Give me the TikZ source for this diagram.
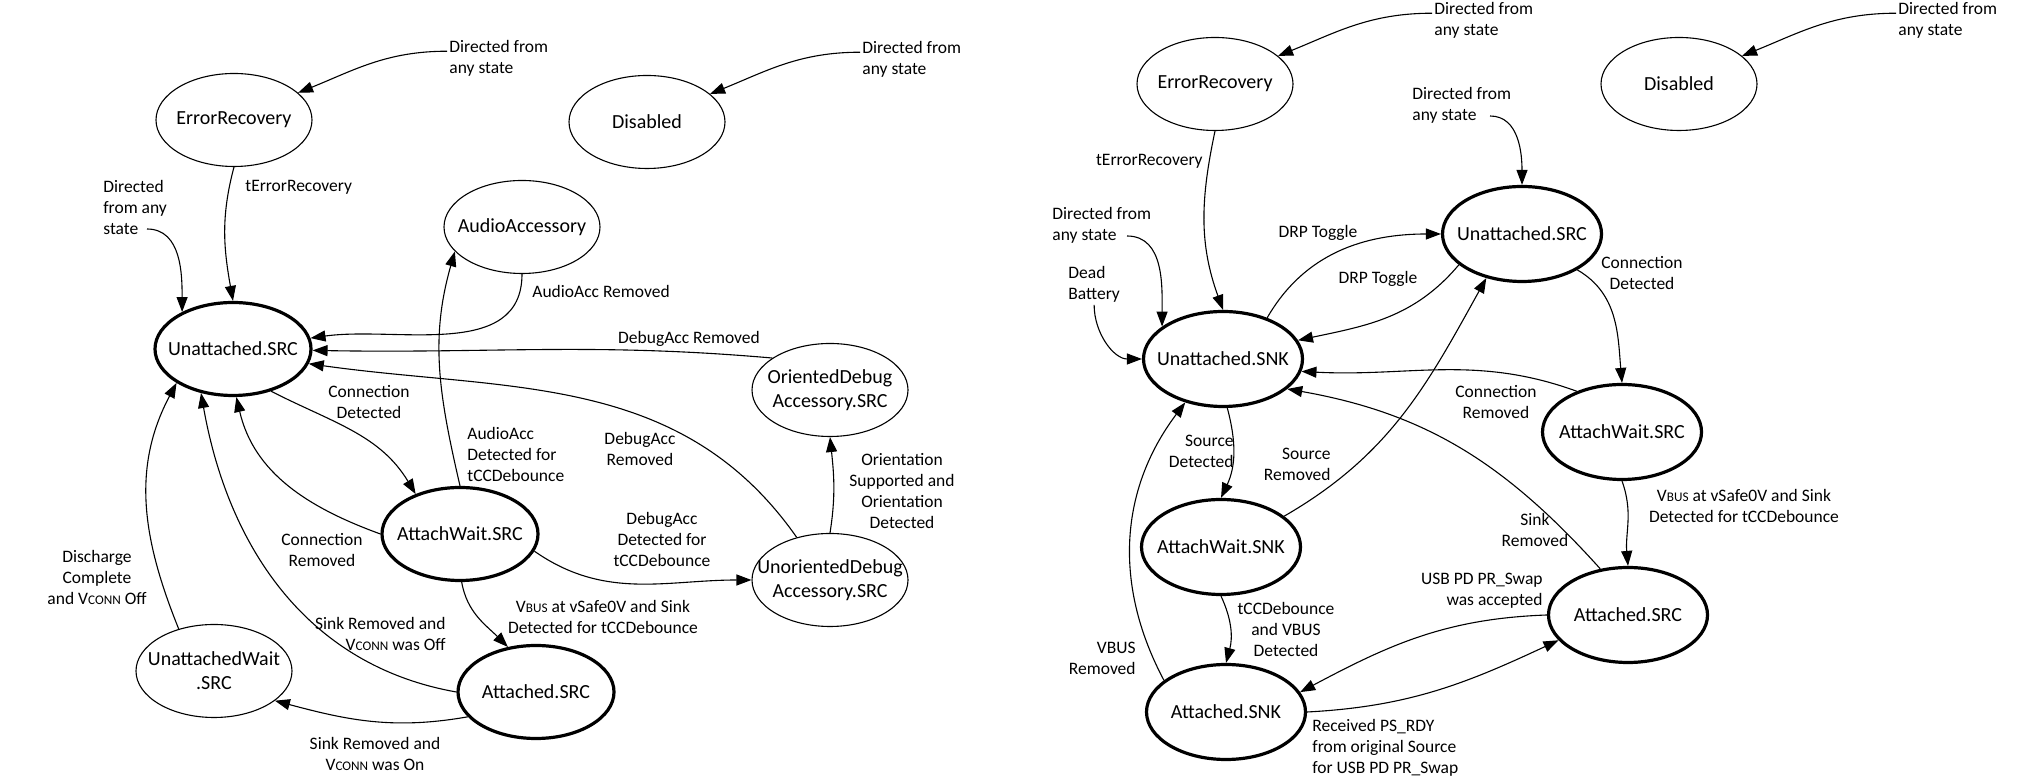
\documentclass[tikz,border=0pt]{standalone}
\usepackage{fontspec}
\setmainfont{Carlito}
\usetikzlibrary{shapes.geometric,arrows.meta}
\newcommand{\smc}[1]{{\fontsize{6.6}{7}\selectfont #1}}

\begin{document}
\begin{tikzpicture}[x=0.5pt,y=0.5pt,
    >={Triangle[length=7.5pt,width=5.5pt]},
    state/.style={ellipse,draw,line width=0.55pt,minimum width=78pt,minimum height=46.5pt,
        inner xsep=-12pt,inner ysep=0pt,align=center,font=\fontsize{10}{12}\selectfont},
    main/.style={state,line width=1.6pt},
    rmain/.style={main,minimum width=79.5pt,minimum height=47.5pt},
    lbl/.style={inner sep=1pt,font=\fontsize{8.75}{10.5}\selectfont},
    trans/.style={->,line width=0.55pt}]
    \useasboundingbox (0,0) rectangle (2033,780);

    % source diagram
    \node[state] (errL) at (234,660) {ErrorRecovery};
    \node[state] (disL) at (647,658) {Disabled};
    \node[state] (audio) at (522,553) {AudioAccessory};
    \node[main] (unsrcL) at (233,431) {Unattached.SRC};
    \node[state] (orient) at (830,390) {OrientedDebug\\Accessory.SRC};
    \node[state] (unorient) at (830,200) {UnorientedDebug\\Accessory.SRC};
    \node[main] (awsrcL) at (460,246) {AttachWait.SRC};
    \node[main] (attsrcL) at (536,88) {Attached.SRC};
    \node[state] (uwait) at (214,109) {UnattachedWait\\.SRC};

    \node[lbl,anchor=west,align=left] (dfErrL) at (447,721.5) {Directed from\\any state};
    \node[lbl,anchor=west,align=left] (dfUnL) at (101,572) {Directed\\from any\\state};
    \node[lbl,anchor=west] (terL) at (243,593) {tErrorRecovery};
    \node[lbl,anchor=west,align=left] (dfDisL) at (860,720.5) {Directed from\\any state};
    \node[lbl,anchor=west] (audRem) at (530,489) {AudioAcc Removed};
    \node[lbl] (dbgRemA) at (689,441) {DebugAcc Removed};
    \node[lbl,align=center] (conDetL) at (369,377.5) {Connection\\Detected};
    \node[lbl,anchor=west,align=left] (audDet) at (465,326) {AudioAcc\\Detected for\\tCCDebounce};
    \node[lbl,align=center] (dbgRemB) at (640,331) {DebugAcc\\Removed};
    \node[lbl,align=center] (orDet) at (902,289) {Orientation\\Supported and\\Orientation\\Detected};
    \node[lbl,align=center] (dbgDet) at (662,241) {DebugAcc\\Detected for\\tCCDebounce};
    \node[lbl,align=center] (conRemL) at (322,229.5) {Connection\\Removed};
    \node[lbl,align=center] (disch) at (97,203) {Discharge\\Complete\\and V\smc{CONN} Off};
    \node[lbl,align=center] (vbusL) at (603,163.5) {V\smc{BUS} at vSafe0V and Sink\\Detected for tCCDebounce};
    \node[lbl,anchor=east,align=right] (sinkOff) at (448,146.5) {Sink Removed and\\V\smc{CONN} was Off};
    \node[lbl,align=center] (sinkOn) at (375,26.5) {Sink Removed and\\V\smc{CONN} was On};
    \coordinate (dfUnLtail) at (147,551);

    \draw[trans] (dfErrL.172) to[out=180,in=22] (errL.23);
    \draw[trans] (dfDisL.172) to[out=180,in=22] (disL.24);
    \draw[trans] (dfUnLtail) to[out=0,in=90] (unsrcL.144);
    \draw[trans] (errL.south) to[out=255,in=100] (unsrcL.north);
    \draw[trans] (audio.south) to[out=270,in=8] (unsrcL.8);
    \draw[trans] (orient.151) to[out=175,in=-1] (unsrcL.-1);
    \draw[trans] (unorient.128) to[out=125,in=-8] (unsrcL.-11);
    \draw[trans] (unsrcL.-48) to[out=-27,in=121] (awsrcL.138);
    \draw[trans] (awsrcL.north) to[out=103,in=254] (audio.200);
    \draw[trans] (unorient.north) to[out=81,in=276] (orient.south);
    \draw[trans] (awsrcL.-13) to[out=-35,in=180] (unorient.west);
    \draw[trans] (awsrcL.west) to[out=160,in=-77] (unsrcL.-86);
    \draw[trans] (awsrcL.272) to[out=-80,in=135] (attsrcL.122);
    \draw[trans] (attsrcL.west) to[out=170,in=-80] (unsrcL.234);
    \draw[trans] (uwait.130) to[out=112,in=242] (unsrcL.211);
    \draw[trans] (attsrcL.200) to[out=190,in=-15] (uwait.-26);

    % sink diagram
    \node[state] (errR) at (1215,696) {ErrorRecovery};
    \node[state] (disR) at (1679,696) {Disabled};
    \node[rmain] (unsrcR) at (1522,546) {Unattached.SRC};
    \node[rmain] (unsnk) at (1223,421) {Unattached.SNK};
    \node[rmain] (awsnk) at (1221,233) {AttachWait.SNK};
    \node[rmain] (attsnk) at (1226,68) {Attached.SNK};
    \node[rmain] (awsrcR) at (1622,348) {AttachWait.SRC};
    \node[rmain] (attsrcR) at (1628,165) {Attached.SRC};

    \node[lbl,anchor=west,align=left] (dfErrR) at (1432,759.5) {Directed from\\any state};
    \node[lbl,anchor=west,align=left] (dfDisR) at (1896,759.5) {Directed from\\any state};
    \node[lbl,anchor=west,align=left] (dfSrc) at (1410,674.5) {Directed from\\any state};
    \node[lbl,anchor=east] (terR) at (1205,619) {tErrorRecovery};
    \node[lbl,anchor=west,align=left] (dfSnk) at (1050,554.5) {Directed from\\any state};
    \node[lbl,anchor=west,align=left] (dead) at (1066,495.5) {Dead\\Battery};
    \node[lbl] (drpA) at (1318,547) {DRP Toggle};
    \node[lbl] (drpB) at (1378,501) {DRP Toggle};
    \node[lbl,align=center] (conDetR) at (1642,507) {Connection\\Detected};
    \node[lbl,align=center] (conRemR) at (1496,377.5) {Connection\\Removed};
    \node[lbl,anchor=east,align=right] (srcDet) at (1236,328.5) {Source\\Detected};
    \node[lbl,anchor=east,align=right] (srcRem) at (1333,315.5) {Source\\Removed};
    \node[lbl,align=center] (sinkRem) at (1535,250) {Sink\\Removed};
    \node[lbl,align=center] (vbusR) at (1744,274.5) {V\smc{BUS} at vSafe0V and Sink\\Detected for tCCDebounce};
    \node[lbl,anchor=east,align=right] (swapAcc) at (1545,189.5) {USB PD PR\_Swap\\was accepted};
    \node[lbl,align=center] (tccVbus) at (1286,151) {tCCDebounce\\and VBUS\\Detected};
    \node[lbl,anchor=east,align=right] (vbusRem) at (1138,122) {VBUS\\Removed};
    \node[lbl,anchor=west,align=left] (psRdy) at (1310,32) {Received PS\_RDY\\from original Source\\for USB PD PR\_Swap};
    \coordinate (dfSrcTail) at (1490,664);
    \coordinate (dfSnkTail) at (1127,544);

    \draw[trans] (dfErrR.172) to[out=180,in=22] (errR.24);
    \draw[trans] (dfDisR.172) to[out=180,in=22] (disR.24);
    \draw[trans] (dfSrcTail) to[out=0,in=90] (unsrcR.north);
    \draw[trans] (errR.south) to[out=258,in=110] (unsnk.north);
    \draw[trans] (dfSnkTail) to[out=0,in=90] (unsnk.152);
    \draw[trans] (dead.south) to[out=270,in=180] (unsnk.west);
    \draw[trans] (unsnk.43) to[out=60,in=180] (unsrcR.west);
    \draw[trans] (unsrcR.206) to[out=230,in=12] (unsnk.14);
    \draw[trans] (awsrcR.138) to[out=160,in=-3] (unsnk.-9);
    \draw[trans] (unsnk.275) to[out=-75,in=65] (awsnk.north);
    \draw[trans] (awsnk.26) to[out=30,in=241] (unsrcR.231);
    \draw[trans] (attsrcR.121) to[out=132,in=-10] (unsnk.-25);
    \draw[trans] (unsrcR.-33) to[out=-30,in=95] (awsrcR.north);
    \draw[trans] (awsrcR.south) to[out=-70,in=95] (attsrcR.north);
    \draw[trans] (attsrcR.west) to[out=182,in=28] (attsnk.15);
    \draw[trans] (attsnk.east) to[out=3,in=205] (attsrcR.200);
    \draw[trans] (awsnk.south) to[out=-65,in=75] (attsnk.north);
    \draw[trans] (attsnk.153) to[out=118,in=233] (unsnk.229);
\end{tikzpicture}
\end{document}
